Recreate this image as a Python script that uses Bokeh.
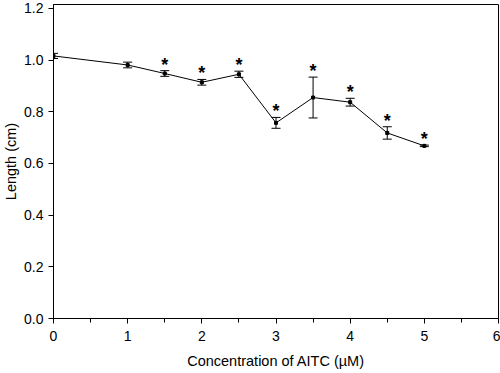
from bokeh.plotting import figure
from bokeh.models import (Range1d, Whisker, ColumnDataSource, FixedTicker,
                          TeeHead, PrintfTickFormatter)
from bokeh.embed import file_html
from bokeh.resources import INLINE
from bokeh.core.properties import value

# ---- data ----
conc = [0, 1, 1.5, 2, 2.5, 3, 3.5, 4, 4.5, 5]
length = [1.016, 0.981, 0.948, 0.914, 0.945, 0.757, 0.855, 0.837, 0.718, 0.668]
sem = [0.010, 0.011, 0.011, 0.011, 0.012, 0.021, 0.079, 0.015, 0.024, 0.003]
significant = [False, False, True, True, True, True, True, True, True, True]
x_ticks = [0, 1, 2, 3, 4, 5, 6]
x_minor = [0.5, 1.5, 2.5, 3.5, 4.5, 5.5]
y_ticks = [0.0, 0.2, 0.4, 0.6, 0.8, 1.0, 1.2]

FONT = "Liberation Sans"

src = ColumnDataSource(dict(
    x=conc, y=length,
    upper=[m + e for m, e in zip(length, sem)],
    lower=[m - e for m, e in zip(length, sem)],
))
star_src = ColumnDataSource(dict(
    x=[c for c, s in zip(conc, significant) if s],
    y=[m + e for m, e, s in zip(length, sem, significant) if s],
    t=["*" for s in significant if s],
))

p = figure(width=500, height=373, output_backend="svg", toolbar_location=None,
           x_range=Range1d(0, 6), y_range=Range1d(0, 1.215),
           min_border_left=0, min_border_right=2, min_border_top=4,
           min_border_bottom=55)
p.grid.visible = False
p.outline_line_color = "black"
p.outline_line_width = 1
p.background_fill_color = "white"
p.border_fill_color = "white"

p.xaxis.ticker = FixedTicker(ticks=x_ticks, minor_ticks=x_minor)
p.yaxis.ticker = FixedTicker(ticks=y_ticks, minor_ticks=[])
p.yaxis.formatter = PrintfTickFormatter(format="%.1f")

for ax in (p.xaxis[0], p.yaxis[0]):
    ax.axis_line_color = "black"
    ax.major_tick_line_color = "black"
    ax.minor_tick_line_color = "black"
    ax.major_tick_in = 0
    ax.major_tick_out = 5
    ax.minor_tick_in = 0
    ax.minor_tick_out = 4
    ax.major_label_text_font = FONT
    ax.major_label_text_font_size = "14px"
    ax.major_label_text_color = "black"
    ax.axis_label_text_font = FONT
    ax.axis_label_text_font_size = "14.5px"
    ax.axis_label_text_font_style = "normal"
    ax.axis_label_text_color = "black"

p.xaxis.axis_label = "Concentration of AITC (µM)"
p.yaxis.axis_label = "Length (cm)"
p.xaxis.major_label_standoff = 7
p.yaxis.major_label_standoff = 5
p.xaxis.axis_label_standoff = 9
p.yaxis.axis_label_standoff = 2

p.line("x", "y", source=src, line_color="black", line_width=1)

w = Whisker(base="x", upper="upper", lower="lower", source=src,
            line_color="black", line_width=1,
            upper_head=TeeHead(size=9, line_color="black", line_width=1),
            lower_head=TeeHead(size=9, line_color="black", line_width=1))
p.add_layout(w)

p.scatter("x", "y", source=src, marker="square", size=3,
          fill_color="black", line_color="black")

p.text("x", "y", text="t", source=star_src, text_align="center",
       text_baseline="middle", y_offset=-6, text_font=value(FONT),
       text_font_size="18px", text_font_style="bold", text_color="black")

open("out.html", "w").write(file_html(p, INLINE))
